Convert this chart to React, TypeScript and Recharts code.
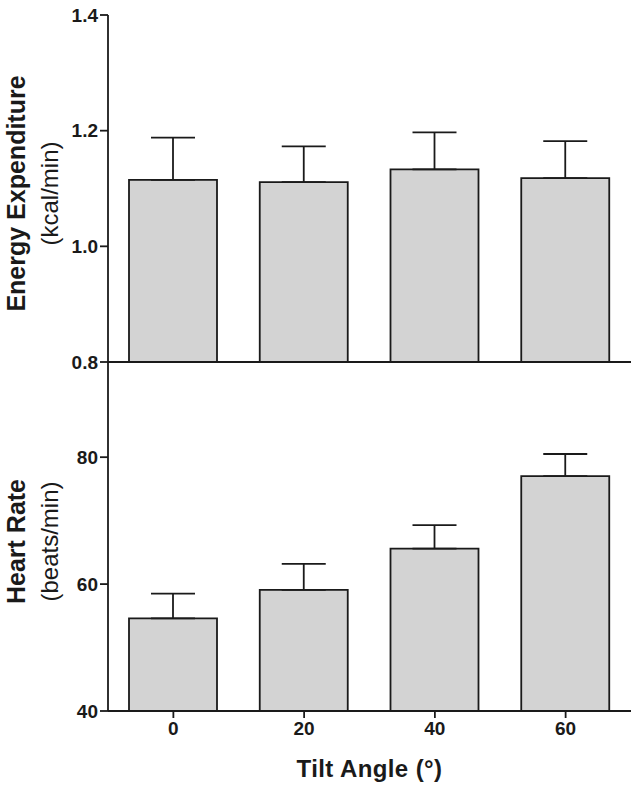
import { BarChart, Bar, XAxis, YAxis, ErrorBar } from "recharts";

const angles = ["0", "20", "40", "60"];
const energy = [1.115, 1.111, 1.133, 1.118];
const energyErr = [0.073, 0.062, 0.064, 0.064];
const heartRate = [54.6, 59.1, 65.6, 77.0];
const heartRateErr = [3.9, 4.1, 3.7, 3.5];

const energyTicks = [0.8, 1.0, 1.2, 1.4];
const heartTicks = [40, 60, 80];

const FONT = '"Liberation Sans", Arial, Helvetica, sans-serif';
const INK = "#1a1a1a";
const LW = 1.8;

const energyData = angles.map((a, i) => ({
  angle: a,
  value: energy[i],
  err: [0, energyErr[i]],
}));
const heartData = angles.map((a, i) => ({
  angle: a,
  value: heartRate[i],
  err: [0, heartRateErr[i]],
}));

const tickStyle = { fontSize: 19, fontWeight: 700, fill: INK, fontFamily: FONT };
const line = { stroke: INK, strokeWidth: LW };

function yTitle(main: string, sub: string) {
  return (props: any) => {
    const vb = props.viewBox || {};
    const cy = (vb.y ?? 0) + (vb.height ?? 0) / 2 + 5;
    return (
      <g>
        <text
          transform={`translate(16,${cy}) rotate(-90)`}
          textAnchor="middle"
          dominantBaseline="central"
          fontFamily={FONT}
          fontWeight={700}
          fontSize={25}
          fill={INK}
        >
          {main}
        </text>
        <text
          transform={`translate(49,${cy}) rotate(-90)`}
          textAnchor="middle"
          dominantBaseline="central"
          fontFamily={FONT}
          fontSize={24}
          fill={INK}
        >
          {sub}
        </text>
      </g>
    );
  };
}

export default function App() {
  return (
    <div style={{ position: "absolute", left: 0, top: 0, width: 638, height: 787, background: "#fff" }}>
      <div style={{ position: "absolute", left: 0, top: 0 }}>
        <BarChart
          width={638}
          height={380}
          data={energyData}
          margin={{ top: 15, right: 7, bottom: 16, left: 0 }}
          barSize={88}
        >
          <XAxis dataKey="angle" height={2} tick={false} tickLine={false} axisLine={line} />
          <YAxis
            width={108}
            domain={[0.8, 1.4]}
            ticks={energyTicks}
            interval={0}
            allowDataOverflow
            tickFormatter={(v: number) => v.toFixed(1)}
            tick={tickStyle}
            tickSize={8}
            tickMargin={2}
            tickLine={line}
            axisLine={line}
            label={{ content: yTitle("Energy Expenditure", "(kcal/min)") }}
          />
          <Bar dataKey="value" fill="#d3d3d3" stroke={INK} strokeWidth={LW} isAnimationActive={false}>
            <ErrorBar dataKey="err" direction="y" width={22} stroke={INK} strokeWidth={LW} isAnimationActive={false} />
          </Bar>
        </BarChart>
      </div>
      <div style={{ position: "absolute", left: 0, top: 350 }}>
        <BarChart
          width={638}
          height={437}
          data={heartData}
          margin={{ top: 12, right: 7, bottom: 0, left: 0 }}
          barSize={88}
        >
          <XAxis
            dataKey="angle"
            height={76}
            tick={tickStyle}
            tickSize={7}
            tickMargin={4}
            tickLine={line}
            axisLine={line}
            label={{
              value: "Tilt Angle (°)",
              position: "insideBottom",
              offset: 10,
              style: { fontSize: 24, fontWeight: 700, fill: INK, fontFamily: FONT, letterSpacing: 0.4 },
            }}
          />
          <YAxis
            width={108}
            domain={[40, 95]}
            ticks={heartTicks}
            interval={0}
            allowDataOverflow
            tick={tickStyle}
            tickSize={8}
            tickMargin={2}
            tickLine={line}
            axisLine={line}
            label={{ content: yTitle("Heart Rate", "(beats/min)") }}
          />
          <Bar dataKey="value" fill="#d3d3d3" stroke={INK} strokeWidth={LW} isAnimationActive={false}>
            <ErrorBar dataKey="err" direction="y" width={22} stroke={INK} strokeWidth={LW} isAnimationActive={false} />
          </Bar>
        </BarChart>
      </div>
    </div>
  );
}
